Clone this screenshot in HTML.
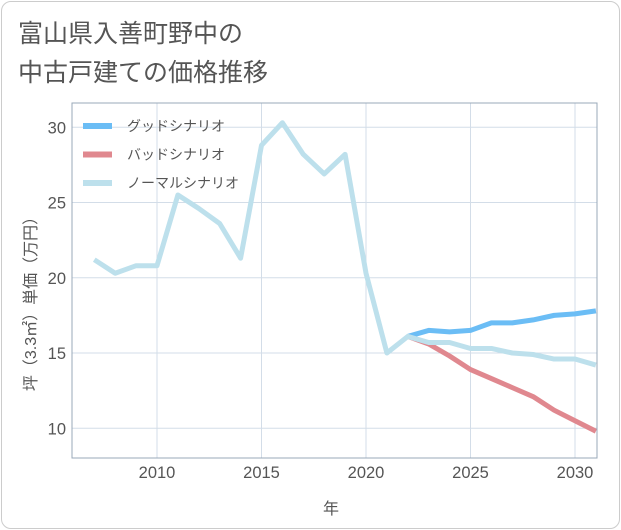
<!DOCTYPE html>
<html><head><meta charset="utf-8"><style>
body{margin:0;background:#fff;font-family:"Liberation Sans","Noto Sans CJK JP",sans-serif}
#card{position:absolute;left:1px;top:1px;width:617px;height:526px;border:1px solid #ccc;border-radius:10px;background:#fff}
</style></head><body>
<div id="card"></div>
<svg id="c" width="621" height="530" style="position:absolute;left:0;top:0">
<text x="18" y="42" font-size="25" fill="#555">富山県入善町野中の</text>
<text x="18" y="81" font-size="25" fill="#555">中古戸建ての価格推移</text>
<g id="grid"></g><g id="lines"></g>
<rect x="72" y="103" width="525" height="355" fill="none" stroke="#99a8b8" stroke-width="1"/>
<text x="331" y="514" font-size="16" fill="#555" text-anchor="middle">年</text>
<text transform="translate(36,300) rotate(-90)" font-size="16" fill="#555" text-anchor="middle">坪（3.3㎡）単価（万円）</text>
<g id="legend"></g>
</svg>
<script>
const years=[2007,2008,2009,2010,2011,2012,2013,2014,2015,2016,2017,2018,2019,2020,2021,2022,2023,2024,2025,2026,2027,2028,2029,2030,2031];
const normal=[21.2,20.3,20.8,20.8,25.5,24.6,23.6,21.3,28.8,30.3,28.2,26.9,28.2,20.3,15.0,16.1,15.7,15.7,15.3,15.3,15.0,14.9,14.6,14.6,14.2];
const futureYears=[2022,2023,2024,2025,2026,2027,2028,2029,2030,2031];
const good=[16.1,16.5,16.4,16.5,17.0,17.0,17.2,17.5,17.6,17.8];
const bad=[16.1,15.6,14.8,13.9,13.3,12.7,12.1,11.2,10.5,9.8];
const xTicks=[2010,2015,2020,2025,2030];
const yTicks=[10,15,20,25,30];
const X=y=>157+(y-2010)*20.9;
const Y=v=>353-(v-15)*15.05;
const NS="http://www.w3.org/2000/svg";
function mk(t,a,p){const e=document.createElementNS(NS,t);for(const k in a)e.setAttribute(k,a[k]);p.appendChild(e);return e;}
const g=document.getElementById('grid');
xTicks.forEach(t=>{const l=mk('line',{x1:X(t),x2:X(t),y1:103,y2:458,stroke:'#d3dde8'},g);


const tx=mk('text',{x:X(t),y:478,'font-size':16.5,fill:'#555','text-anchor':'middle'},g);tx.textContent=t;

});
yTicks.forEach(t=>{const l=mk('line',{x1:72,x2:597,y1:Y(t),y2:Y(t),stroke:'#d3dde8'},g);


const tx=mk('text',{x:66,y:Y(t)+6,'font-size':16.5,fill:'#555','text-anchor':'end'},g);tx.textContent=t;

});
const L=document.getElementById('lines');
function line(xs,vs,c,n){const p=mk('polyline',{points:xs.map((x,i)=>X(x)+','+Y(vs[i])).join(' '),fill:'none',stroke:c,'stroke-width':5,'stroke-linejoin':'round'},L);

}
line(futureYears,good,'#6bbdf5','good-scenario-line');
line(futureYears,bad,'#e0888f','bad-scenario-line');
line(years,normal,'#bde0ec','normal-scenario-line');
const lg=document.getElementById('legend');
[['グッドシナリオ','#6bbdf5'],['バッドシナリオ','#e0888f'],['ノーマルシナリオ','#bde0ec']].forEach((d,i)=>{
const y=126+i*28.5;
const r=mk('line',{x1:83,x2:112,y1:y,y2:y,stroke:d[1],'stroke-width':6},lg);


const t=mk('text',{x:127,y:y+5,'font-size':14,fill:'#555'},lg);t.textContent=d[0];

});
</script>
</body></html>
